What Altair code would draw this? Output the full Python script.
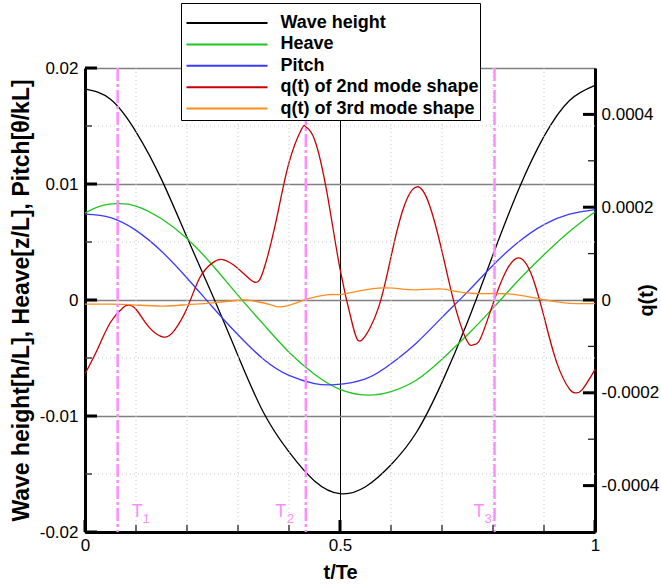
import altair as alt
import pandas as pd

# ---------------- data ----------------
names = ["Wave height", "Heave", "Pitch", "q(t) of 2nd mode shape", "q(t) of 3rd mode shape"]
colors = ["#000000", "#1fc41f", "#3a3aff", "#c80000", "#ff8c1e"]

t_wave = [0, 0.05, 0.1, 0.15, 0.2, 0.25, 0.3, 0.35, 0.4, 0.45, 0.5, 0.55, 0.6,
          0.65, 0.7, 0.75, 0.8, 0.85, 0.9, 0.95, 1.0]
wave = [0.0182, 0.0173, 0.0145, 0.0104, 0.0054, 0.0004, -0.0048, -0.0097, -0.0131, -0.0156,
        -0.0167, -0.0161, -0.0142, -0.0114, -0.0071, -0.0019, 0.0039, 0.0095, 0.0141,
        0.0172, 0.0185]

t_heave = [0, 0.03, 0.063, 0.1, 0.15, 0.2, 0.25, 0.3, 0.35, 0.4, 0.45, 0.5, 0.553, 0.6,
           0.65, 0.7, 0.75, 0.8, 0.85, 0.9, 0.95, 1.0]
heave = [0.0075, 0.0081, 0.0083, 0.0081, 0.0070, 0.0053, 0.0030, 0.0004, -0.0021, -0.0045,
         -0.0064, -0.0077, -0.0082, -0.0079, -0.0069, -0.0051, -0.0030, -0.0007, 0.0017,
         0.0039, 0.0059, 0.0076]

t_pitch = [0, 0.05, 0.1, 0.15, 0.2, 0.25, 0.3, 0.35, 0.4, 0.45, 0.49, 0.55, 0.6, 0.65, 0.7,
           0.75, 0.8, 0.85, 0.9, 0.95, 1.0]
pitch = [0.0074, 0.0071, 0.0060, 0.0042, 0.0019, -0.0006, -0.0030, -0.0051, -0.0065, -0.0072,
         -0.0073, -0.0068, -0.0055, -0.0037, -0.0015, 0.0007, 0.0030, 0.0050, 0.0065, 0.0074,
         0.0078]

t_q2 = [0, 0.025, 0.05, 0.075, 0.085, 0.1, 0.125, 0.154, 0.175, 0.2, 0.225, 0.25, 0.27, 0.3,
        0.331, 0.35, 0.375, 0.4, 0.425, 0.433, 0.45, 0.475, 0.5, 0.525, 0.543, 0.575, 0.6,
        0.625, 0.651, 0.675, 0.7, 0.725, 0.75, 0.762, 0.775, 0.8, 0.825, 0.85, 0.875, 0.9,
        0.925, 0.95, 0.962, 0.975, 1.0]
q2 = [-0.000159, -0.000105, -0.000048, -0.000016, -0.000011, -0.000020, -0.000058, -0.000080,
      -0.000066, -0.000018, 0.000048, 0.000080, 0.000087, 0.000068, 0.000039, 0.000064,
      0.000172, 0.000296, 0.000369, 0.000373, 0.000346, 0.000228, 0.000067, -0.000055,
      -0.000086, -0.000018, 0.000093, 0.000200, 0.000244, 0.000206, 0.000105, -0.000011,
      -0.000090, -0.000096, -0.000084, -0.000008, 0.000061, 0.000091, 0.000056, -0.000036,
      -0.000135, -0.000192, -0.000200, -0.000193, -0.000150]

t_q3 = [0, 0.05, 0.1, 0.154, 0.2, 0.25, 0.307, 0.33, 0.36, 0.382, 0.41, 0.438, 0.477, 0.5,
        0.54, 0.585, 0.62, 0.65, 0.696, 0.73, 0.765, 0.8, 0.83, 0.86, 0.89, 0.94, 1.0]
q3 = [-0.000009, -0.000009, -0.000011, -0.000013, -0.000010, -0.000006, 0.0, -0.000002,
      -0.000009, -0.000015, -0.000008, 0.000003, 0.0000115, 0.000012, 0.000020, 0.000026,
      0.000024, 0.000022, 0.000024, 0.000018, 0.000014, 0.000014, 0.000013, 0.000009,
      0.000003, -0.000006, -0.000008]

# marked instants T1, T2, T3
t_marks = [0.064, 0.433, 0.803]
mark_names = ["1", "2", "3"]

# axis tick values
x_labels = [0, 0.5, 1]
x_minor = [0.1, 0.2, 0.3, 0.4, 0.6, 0.7, 0.8, 0.9]
yl_major = [-0.02, -0.01, 0, 0.01, 0.02]
yl_minor = [-0.015, -0.005, 0.005, 0.015]
yr_major = [-0.0004, -0.0002, 0, 0.0002, 0.0004]
yr_minor = [-0.0003, -0.0001, 0.0001, 0.0003]

# ---------------- chart ----------------
W, H = 510, 464
FONT = "Liberation Sans"
INTERP = "natural"

df_left = pd.concat([
    pd.DataFrame({"t": t_wave, "v": wave, "s": names[0]}),
    pd.DataFrame({"t": t_heave, "v": heave, "s": names[1]}),
    pd.DataFrame({"t": t_pitch, "v": pitch, "s": names[2]}),
], ignore_index=True)
df_right = pd.concat([
    pd.DataFrame({"t": t_q2, "v": q2, "s": names[3]}),
    pd.DataFrame({"t": t_q3, "v": q3, "s": names[4]}),
], ignore_index=True)

xs = alt.Scale(domain=[0, 1], nice=False, zero=False)
yl = alt.Scale(domain=[-0.02, 0.02], nice=False, zero=False)
yr = alt.Scale(domain=[-0.0005, 0.0005], nice=False, zero=False)
cs = alt.Scale(domain=names, range=colors)

legend = alt.Legend(
    orient="none", legendX=96, legendY=-65, title=" ", titleFontSize=6, titlePadding=1,
    symbolType="M-4,0H4", symbolSize=410, symbolStrokeWidth=2,
    labelFont=FONT, labelFontWeight="bold", labelFontSize=18, labelColor="black",
    labelLimit=400, padding=1.5, strokeColor="black", fillColor="white",
    rowPadding=0.4, symbolOffset=33, labelOffset=42,
)

x_axis = alt.Axis(
    values=x_labels, labelExpr="toString(datum.value)", grid=True, gridColor="black",
    gridWidth=1, ticks=False, domainColor="black", domainWidth=3, labelFont=FONT,
    labelFontSize=17, labelColor="black", labelPadding=5, labelFlush=False,
    title="t/Te", titleFont=FONT, titleFontWeight="bold", titleFontSize=20,
    titleColor="black", titleY=40, titleBaseline="middle",
)
yl_axis = alt.Axis(
    values=yl_major, labelExpr="toString(datum.value)", grid=True, gridColor="#808080",
    gridWidth=1.6, ticks=False, domainColor="black", domainWidth=3, labelFont=FONT,
    labelFontSize=17, labelColor="black", labelPadding=7, labelFlush=False,
    labelBaseline="middle",
    title="Wave height[h/L], Heave[z/L], Pitch[θ/kL]", titleFont=FONT,
    titleFontWeight="bold", titleFontSize=23, titleColor="black", titleAngle=270,
    titleX=-64, titleY=H / 2, titleAlign="center", titleBaseline="middle",
)
yr_axis = alt.Axis(
    values=yr_major, labelExpr="toString(datum.value)", grid=False, ticks=False,
    domainColor="black", domainWidth=3, labelFont=FONT, labelFontSize=17,
    labelColor="black", labelPadding=6, labelFlush=False, labelBaseline="middle",
    title="q(t)", titleFont=FONT, titleFontWeight="bold", titleFontSize=20,
    titleColor="black", titleAngle=270, titleX=51, titleY=H / 2, titleAlign="center",
    titleBaseline="middle",
)


def X(field="t:Q"):
    return alt.X(field, scale=xs, axis=x_axis)


# minor dotted grid
vgrid = alt.Chart(pd.DataFrame({"t": x_minor})).mark_rule(
    color="#c8c8c8", strokeWidth=1, strokeDash=[1, 3]
).encode(x=X())
hgrid = alt.Chart(pd.DataFrame({"v": yl_minor})).mark_rule(
    color="#c8c8c8", strokeWidth=1, strokeDash=[1, 3]
).encode(y=alt.Y("v:Q", scale=yl, axis=None))

# series
left_lines = alt.Chart(df_left).mark_line(strokeWidth=1.3, interpolate=INTERP).encode(
    x=X(),
    y=alt.Y("v:Q", scale=yl, axis=yl_axis),
    color=alt.Color("s:N", scale=cs, legend=legend, sort=names),
    detail="s:N",
)
right_lines = alt.Chart(df_right).mark_line(strokeWidth=1.3, interpolate=INTERP).encode(
    x=X(),
    y=alt.Y("v:Q", scale=yr, axis=yr_axis),
    color=alt.Color("s:N", scale=cs, legend=legend, sort=names),
    detail="s:N",
)

# T marker lines and labels
df_marks = pd.DataFrame({"t": t_marks, "n": mark_names})
pink = "#ff8cff"
tlines = alt.Chart(df_marks).mark_rule(
    color=pink, strokeWidth=2.5, strokeDash=[13, 3, 3, 3]
).encode(x=X())

t_dx = [19.5, -25, -15.5]
sub_dx = [28.5, -15.5, -6.5]
label_layers = []
for i in range(len(t_marks)):
    one = alt.Chart(df_marks.iloc[[i]])
    label_layers.append(one.mark_text(
        text="T", font=FONT, fontSize=18, color=pink, dx=t_dx[i], baseline="alphabetic"
    ).encode(x=X(), y=alt.value(449)))
    label_layers.append(one.mark_text(
        font=FONT, fontSize=13, color=pink, dx=sub_dx[i], baseline="alphabetic"
    ).encode(x=X(), y=alt.value(455), text="n:N"))


# inward ticks
def tick_df(vals):
    return pd.DataFrame({"v": vals})


bt_major = alt.Chart(tick_df(x_labels)).mark_rule(color="black", strokeWidth=3).encode(
    x=X("v:Q"), y=alt.value(H), y2=alt.value(H - 12))
bt_minor = alt.Chart(tick_df(x_minor)).mark_rule(color="#222222", strokeWidth=1.3).encode(
    x=X("v:Q"), y=alt.value(H), y2=alt.value(H - 7))
lt_major = alt.Chart(tick_df(yl_major)).mark_rule(color="black", strokeWidth=3).encode(
    y=alt.Y("v:Q", scale=yl, axis=None), x=alt.value(0), x2=alt.value(12))
lt_minor = alt.Chart(tick_df(yl_minor)).mark_rule(color="#222222", strokeWidth=1.3).encode(
    y=alt.Y("v:Q", scale=yl, axis=None), x=alt.value(0), x2=alt.value(7))
rt_major = alt.Chart(tick_df(yr_major)).mark_rule(color="black", strokeWidth=3).encode(
    y=alt.Y("v:Q", scale=yr, axis=None), x=alt.value(W), x2=alt.value(W - 12))
rt_minor = alt.Chart(tick_df(yr_minor)).mark_rule(color="#222222", strokeWidth=1.3).encode(
    y=alt.Y("v:Q", scale=yr, axis=None), x=alt.value(W), x2=alt.value(W - 7))

chart = alt.layer(
    left_lines, right_lines, vgrid, hgrid, tlines, *label_layers,
    bt_major, bt_minor, lt_major, lt_minor, rt_major, rt_minor,
).resolve_scale(y="independent").properties(
    width=W, height=H,
    autosize=alt.AutoSizeParams(type="none"),
    padding={"left": 85, "top": 68, "right": 66, "bottom": 53},
    background="white",
).configure_view(stroke=None)

chart.save("out.html", embed_options={"renderer": "svg", "actions": False})
